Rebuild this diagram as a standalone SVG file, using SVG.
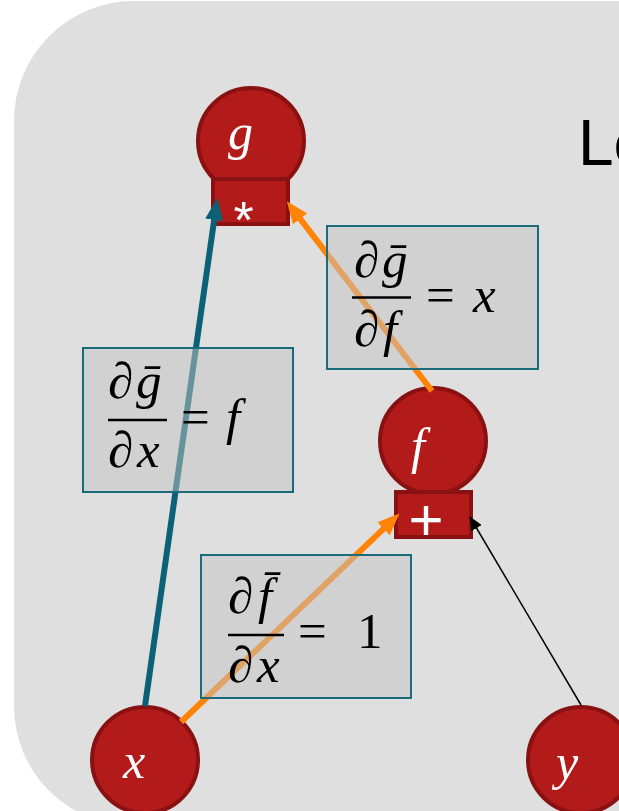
<svg xmlns="http://www.w3.org/2000/svg" width="619" height="811" viewBox="0 0 619 811">
<defs>
<style>
.node circle{fill:#b31b1b;stroke:#8a1111;stroke-width:4}
.node rect{fill:#b31b1b;stroke:#8a1111;stroke-width:4}
.nl{font-family:"Liberation Serif","DejaVu Serif",serif;font-style:italic;font-size:50px;fill:#fff}
.op{font-family:"Liberation Sans",Arial,sans-serif;fill:#fff}
.lab rect{fill:#c4c4c4;fill-opacity:0.5;stroke:#1b6b7d;stroke-width:2}
.m{font-family:"Liberation Serif","DejaVu Serif",serif;font-size:51px;fill:#000}
.i{font-style:italic}
.bar{stroke:#000;stroke-width:2.5}
</style>
<marker id="aT" markerUnits="userSpaceOnUse" markerWidth="22" markerHeight="18" refX="10" refY="9" orient="auto"><path d="M0,0 L22,9 L0,18 z" fill="#0b6276"/></marker>
<marker id="aO" markerUnits="userSpaceOnUse" markerWidth="22" markerHeight="18" refX="10" refY="9" orient="auto"><path d="M0,0 L22,9 L0,18 z" fill="#ff8307"/></marker>
<marker id="aK" markerUnits="userSpaceOnUse" markerWidth="14" markerHeight="12" refX="13" refY="6" orient="auto"><path d="M0,0 L14,6 L0,12 z" fill="#000"/></marker>
</defs>
<rect x="14" y="1" width="720" height="825" rx="120" ry="120" fill="#dfdfdf"/>
<text x="578" y="165" font-family="Liberation Sans, Arial, sans-serif" font-size="64" fill="#000">Le</text>

<g id="node-g" class="node">
<circle cx="251" cy="141" r="53"/>
<rect x="213" y="179" width="75" height="45"/>
<text class="nl" x="228" y="149">g</text>
<text class="op" x="243.5" y="238" font-size="52" text-anchor="middle">*</text>
</g>
<g id="node-f" class="node">
<circle cx="433" cy="441" r="53"/>
<rect x="396" y="492" width="75" height="45"/>
<text class="nl" x="411" y="463">f</text>
<text class="op" x="426" y="540" font-size="60" text-anchor="middle">+</text>
</g>
<g id="node-x" class="node">
<circle cx="145" cy="760" r="53"/>
<text class="nl" x="123" y="778">x</text>
</g>
<g id="node-y" class="node">
<circle cx="581" cy="760" r="53"/>
<text class="nl" x="556" y="779">y</text>
</g>

<g id="connectors" fill="none">
<line x1="145" y1="706" x2="215.6" y2="209.9" stroke="#0b6276" stroke-width="6" marker-end="url(#aT)"/>
<line x1="432" y1="391" x2="294.1" y2="210.9" stroke="#ff8307" stroke-width="6" marker-end="url(#aO)"/>
<line x1="181" y1="722" x2="390.8" y2="521.9" stroke="#ff8307" stroke-width="6" marker-end="url(#aO)"/>
<line x1="581" y1="705" x2="470" y2="517" stroke="#000" stroke-width="1.5" marker-end="url(#aK)"/>
</g>

<g id="label-dg-df" class="lab">
<rect x="327" y="226" width="211" height="143"/>
<text class="m" x="354" y="277">∂<tspan class="i" x="382">ḡ</tspan></text>
<line class="bar" x1="352" y1="297.5" x2="411" y2="297.5"/>
<text class="m" x="354" y="346">∂<tspan class="i" x="383">f</tspan></text>
<text class="m" x="426" y="312">=<tspan class="i" x="473">x</tspan></text>
</g>
<g id="label-dg-dx" class="lab">
<rect x="83" y="348" width="210" height="144"/>
<text class="m" x="108" y="398">∂<tspan class="i" x="136">ḡ</tspan></text>
<line class="bar" x1="108" y1="420" x2="167" y2="420"/>
<text class="m" x="108" y="467">∂<tspan class="i" x="137">x</tspan></text>
<text class="m" x="181" y="434">=<tspan class="i" x="226">f</tspan></text>
</g>
<g id="label-df-dx" class="lab">
<rect x="201" y="555" width="210" height="143"/>
<text class="m" x="228" y="613">∂<tspan class="i" x="258">f̄</tspan></text>
<line class="bar" x1="228" y1="635" x2="284" y2="635"/>
<text class="m" x="228" y="682">∂<tspan class="i" x="257">x</tspan></text>
<text class="m" x="298" y="648">=<tspan x="357">1</tspan></text>
</g>
</svg>
